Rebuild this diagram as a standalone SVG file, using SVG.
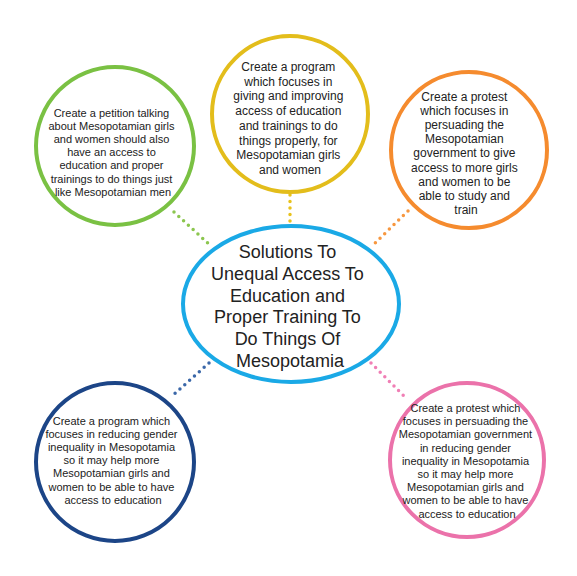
<svg xmlns="http://www.w3.org/2000/svg" width="577" height="576" viewBox="0 0 577 576">
<style>
.n{fill:#fff;stroke-width:4}
.t{font-family:"Liberation Sans",Arial,sans-serif;fill:#222;text-anchor:middle}
.s{font-size:11px}
.m{font-size:12px}
.c{fill:none;stroke-width:3.5;stroke-linecap:round;stroke-dasharray:0 6.5}
</style>
<rect width="577" height="576" fill="#fff"/>
<g id="connectors">
<line class="c" x1="174" y1="212" x2="211" y2="246" stroke="#8cc64f"/>
<line class="c" x1="290" y1="195" x2="290" y2="224" stroke="#e8c21c"/>
<line class="c" x1="408" y1="211" x2="372" y2="246" stroke="#f7973f"/>
<line class="c" x1="209" y1="363" x2="171" y2="397" stroke="#3a67a8"/>
<line class="c" x1="371" y1="363" x2="406" y2="398" stroke="#f07fb5"/>
</g>
<g id="n-green">
<circle class="n" cx="115" cy="146" r="79" stroke="#7ac143"/>
<text class="t s" x="113" y="117">
<tspan x="113">Create a petition talking</tspan>
<tspan x="113" dy="13.1">about Mesopotamian girls</tspan>
<tspan x="113" dy="13.1">and women should also</tspan>
<tspan x="113" dy="13.1">have an access to</tspan>
<tspan x="113" dy="13.1">education and proper</tspan>
<tspan x="113" dy="13.1">trainings to do things just</tspan>
<tspan x="113" dy="13.1">like Mesopotamian men</tspan>
</text>
</g>
<g id="n-yellow">
<circle class="n" cx="290" cy="114" r="78" stroke="#e3bd1b"/>
<text class="t m" x="290" y="71">
<tspan x="290">Create a program</tspan>
<tspan x="290" dy="14.7">which focuses in</tspan>
<tspan x="290" dy="14.7">giving and improving</tspan>
<tspan x="290" dy="14.7">access of education</tspan>
<tspan x="290" dy="14.7">and trainings to do</tspan>
<tspan x="290" dy="14.7">things properly, for</tspan>
<tspan x="290" dy="14.7">Mesopotamian girls</tspan>
<tspan x="290" dy="14.7">and women</tspan>
</text>
</g>
<g id="n-orange">
<circle class="n" cx="469" cy="150" r="78" stroke="#f58b2e"/>
<text class="t m" x="466" y="101">
<tspan x="466">Create a protest</tspan>
<tspan x="466" dy="14.1">which focuses in</tspan>
<tspan x="466" dy="14.1">persuading the</tspan>
<tspan x="466" dy="14.1">Mesopotamian</tspan>
<tspan x="466" dy="14.1">government to give</tspan>
<tspan x="466" dy="14.1">access to more girls</tspan>
<tspan x="466" dy="14.1">and women to be</tspan>
<tspan x="466" dy="14.1">able to study and</tspan>
<tspan x="466" dy="14.1">train</tspan>
</text>
</g>
<g id="n-center">
<ellipse class="n" cx="291" cy="304" rx="108" ry="78" stroke="#1aa9e6"/>
<text class="t" font-size="18" x="290" y="258">
<tspan x="290">Solutions To</tspan>
<tspan x="290" dy="21.8">Unequal Access To</tspan>
<tspan x="290" dy="21.8">Education and</tspan>
<tspan x="290" dy="21.8">Proper Training To</tspan>
<tspan x="290" dy="21.8">Do Things Of</tspan>
<tspan x="290" dy="21.8">Mesopotamia</tspan>
</text>
</g>
<g id="n-darkblue">
<circle class="n" cx="115" cy="462" r="79" stroke="#1c4587"/>
<text class="t s" x="113" y="425">
<tspan x="113">Create a program which</tspan>
<tspan x="113" dy="13.1">focuses in reducing gender</tspan>
<tspan x="113" dy="13.1">inequality in Mesopotamia</tspan>
<tspan x="113" dy="13.1">so it may help more</tspan>
<tspan x="113" dy="13.1">Mesopotamian girls and</tspan>
<tspan x="113" dy="13.1">women to be able to have</tspan>
<tspan x="113" dy="13.1">access to education</tspan>
</text>
</g>
<g id="n-pink">
<circle class="n" cx="467" cy="460" r="77" stroke="#eb72aa"/>
<text class="t s" x="467" y="412">
<tspan x="467">Create a protest which</tspan>
<tspan x="467" dy="13.2">focuses in persuading the</tspan>
<tspan x="467" dy="13.2">Mesopotamian government</tspan>
<tspan x="467" dy="13.2">in reducing gender</tspan>
<tspan x="467" dy="13.2">inequality in Mesopotamia</tspan>
<tspan x="467" dy="13.2">so it may help more</tspan>
<tspan x="467" dy="13.2">Mesopotamian girls and</tspan>
<tspan x="467" dy="13.2">women to be able to have</tspan>
<tspan x="467" dy="13.2">access to education</tspan>
</text>
</g>
</svg>
